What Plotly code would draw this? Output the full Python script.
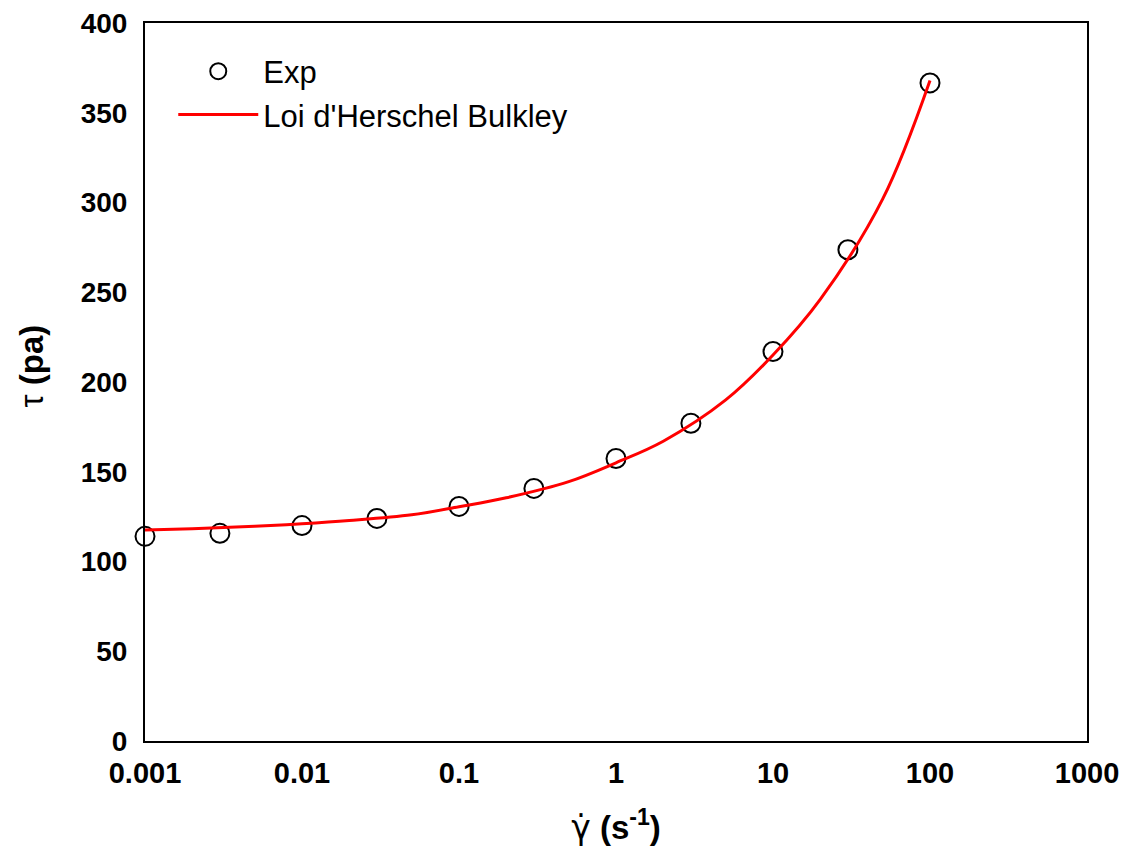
import plotly.graph_objects as go

# Experimental data
exp_x = [0.001, 0.003, 0.01, 0.03, 0.1, 0.3, 1, 3, 10, 30, 100]
exp_y = [114, 115.7, 120, 124, 130.7, 140.7, 157.4, 177, 217, 273.7, 366.6]

# Herschel-Bulkley fitted curve
hb_x = [0.001, 0.002, 0.005, 0.01, 0.02, 0.05, 0.1, 0.2, 0.5, 1, 2, 5, 10, 20, 50, 100]
hb_y = [117.5, 118.3, 119.6, 121, 122.8, 126, 130.5, 135.5, 144.5, 155, 167, 190, 215, 246, 302, 368]

x_tickvals = [0.001, 0.01, 0.1, 1, 10, 100, 1000]
x_ticktext = ["0.001", "0.01", "0.1", "1", "10", "100", "1000"]
y_tickvals = [0, 50, 100, 150, 200, 250, 300, 350, 400]

FONT = "Liberation Sans, Arial, sans-serif"

fig = go.Figure()
fig.add_trace(go.Scatter(
    x=exp_x, y=exp_y, mode="markers", name="Exp",
    marker=dict(symbol="circle-open", size=19, color="black", line=dict(width=2, color="black")),
    cliponaxis=False,
))
fig.add_trace(go.Scatter(
    x=hb_x, y=hb_y, mode="lines", name="Loi d'Herschel Bulkley",
    line=dict(color="red", width=3, shape="spline"),
))

fig.update_layout(
    width=1112, height=840,
    paper_bgcolor="white", plot_bgcolor="white",
    margin=dict(l=137, r=33, t=15, b=107),
    font=dict(family=FONT, color="black"),
    legend=dict(
        x=0.03, y=0.97, xanchor="left", yanchor="top",
        font=dict(size=31, family=FONT, color="black"),
        bgcolor="rgba(0,0,0,0)", itemwidth=80, tracegroupgap=0,
    ),
    xaxis=dict(
        type="log", range=[-3, 3], automargin=False, ticklabeloverflow="allow",
        tickvals=x_tickvals, ticktext=x_ticktext,
        showgrid=False, zeroline=False,
        showline=True, linecolor="black", linewidth=2, mirror=True,
        ticks="", ticklabelstandoff=5,
        tickfont=dict(size=29, family=FONT, color="black", weight="bold"),
        title=dict(
            text='<span style="font-family:DejaVu Sans;font-weight:normal">γ̇</span><b> (s<sup>-1</sup>)</b>',
            font=dict(size=33, family=FONT, color="black"), standoff=28),
    ),
    yaxis=dict(
        range=[0, 400], tickvals=y_tickvals, automargin=False, ticklabeloverflow="allow",
        showgrid=False, zeroline=False,
        showline=True, linecolor="black", linewidth=2, mirror=True,
        ticks="", ticklabelstandoff=10,
        tickfont=dict(size=28, family=FONT, color="black", weight="bold"),
    ),
    annotations=[dict(
        text="τ <b>(pa)</b>", xref="paper", yref="paper",
        x=-0.12, y=0.523, xanchor="center", yanchor="middle",
        textangle=-90, showarrow=False,
        font=dict(size=33, family=FONT, color="black"),
    )],
)

fig.write_html("out.html")
